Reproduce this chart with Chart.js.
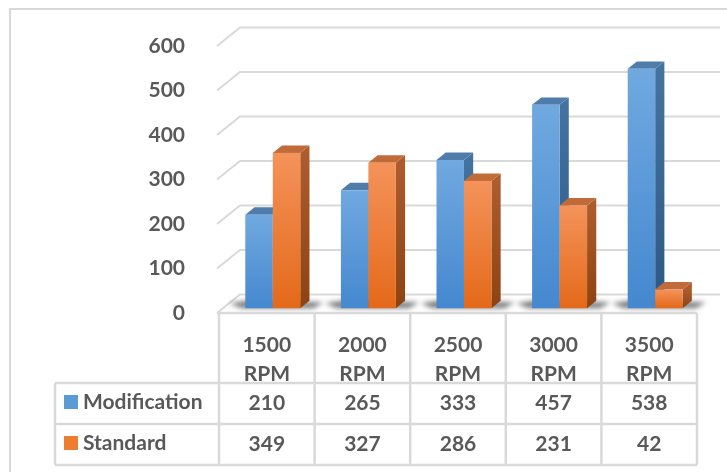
<!DOCTYPE html>
<html>
<head>
<meta charset="utf-8">
<script src="https://cdn.jsdelivr.net/npm/chart.js@4/dist/chart.umd.min.js"></script>
<style>
  html, body { margin: 0; padding: 0; background: #ffffff; }
  #wrap { position: relative; width: 727px; height: 472px; }
  canvas { display: block; }
</style>
</head>
<body>
<div id="wrap"><canvas id="chart" width="727" height="472"></canvas></div>
<script>
// Engine speed categories and the two measured series
const categories = ['1500 RPM', '2000 RPM', '2500 RPM', '3000 RPM', '3500 RPM'];
const modification = [210, 265, 333, 457, 538];
const standard = [349, 327, 286, 231, 42];
const yMin = 0;
const yMax = 600;
const yStep = 100;

const FONT = 'Lato, "Open Sans", sans-serif';
const FONT_SIZE = 21;
const TEXT = '#595959';
const LINE = '#d9d9d9';

// Depth vector of the floor / back wall (front edge -> back wall)
const DEPTH_X = 23, DEPTH_Y = -18.5;
// Bars sit a little behind the front edge and have some thickness
const BAR_OFF = 0.26, BAR_DEPTH = 0.40;

const palette = [
  { front: ['#70a9e0', '#4588cf'], side: ['#44739f', '#2d5884'], top: '#507cab', key: '#5b9bd5' },
  { front: ['#f4935a', '#e4691a'], side: ['#ad5c2d', '#8d4311'], top: '#c26b3a', key: '#ed7d31' }
];

const threeD = {
  id: 'threeD',
  beforeDatasetsDraw(chart) {
    const ctx = chart.ctx;
    const area = chart.chartArea;
    const ys = chart.scales.y;
    ctx.save();
    // back wall gridlines with their left-hand diagonal
    ctx.strokeStyle = LINE;
    ctx.lineWidth = 2;
    ys.ticks.forEach(t => {
      const yf = ys.getPixelForValue(t.value);
      ctx.beginPath();
      ctx.moveTo(area.left - 2, yf);
      ctx.lineTo(area.left - 2 + DEPTH_X, yf + DEPTH_Y);
      ctx.lineTo(area.right + DEPTH_X, yf + DEPTH_Y);
      ctx.stroke();
    });
    // soft shadows of each bar pair on the floor
    const ox = DEPTH_X * BAR_OFF, oy = DEPTH_Y * BAR_OFF;
    const bx = DEPTH_X * BAR_DEPTH, by = DEPTH_Y * BAR_DEPTH;
    const m0 = chart.getDatasetMeta(0), m1 = chart.getDatasetMeta(1);
    ctx.filter = 'blur(2.5px)';
    ctx.fillStyle = 'rgba(20,20,20,0.55)';
    m0.data.forEach((el, i) => {
      const a = el.getProps(['x', 'width', 'base'], true);
      const b = m1.data[i].getProps(['x', 'width'], true);
      const l = a.x - a.width / 2 + ox;
      const r = b.x + b.width / 2 + ox + bx;
      const yb = a.base + oy;
      ctx.beginPath();
      ctx.moveTo(l - 4, yb);
      ctx.lineTo(l - 16, yb - 5);
      ctx.lineTo(l + 4, yb - 8);
      ctx.lineTo(r + 14, yb - 6);
      ctx.lineTo(r + 4, yb);
      ctx.closePath();
      ctx.fill();
    });
    ctx.filter = 'none';
    // bars: side, top and front faces
    m0.data.forEach((_, i) => {
      [0, 1].forEach(d => {
        const el = chart.getDatasetMeta(d).data[i];
        const p = el.getProps(['x', 'y', 'base', 'width'], true);
        const c = palette[d];
        const l = p.x - p.width / 2 + ox;
        const r = p.x + p.width / 2 + ox;
        const t = p.y + oy;
        const b = p.base + oy;
        let g = ctx.createLinearGradient(0, t, 0, b);
        g.addColorStop(0, c.side[0]); g.addColorStop(1, c.side[1]);
        ctx.fillStyle = g;
        ctx.beginPath();
        ctx.moveTo(r, t); ctx.lineTo(r + bx, t + by); ctx.lineTo(r + bx, b + by); ctx.lineTo(r, b);
        ctx.closePath(); ctx.fill();
        ctx.fillStyle = c.top;
        ctx.beginPath();
        ctx.moveTo(l, t); ctx.lineTo(l + bx, t + by); ctx.lineTo(r + bx, t + by); ctx.lineTo(r, t);
        ctx.closePath(); ctx.fill();
        g = ctx.createLinearGradient(0, t, 0, b);
        g.addColorStop(0, c.front[0]); g.addColorStop(1, c.front[1]);
        ctx.fillStyle = g;
        ctx.fillRect(l, t, r - l, b - t);
      });
    });
    ctx.restore();
  },
  afterDraw(chart) {
    const ctx = chart.ctx;
    const area = chart.chartArea;
    const xs = chart.scales.x;
    const n = categories.length;
    const cw = (area.right - area.left) / n;
    const top = area.bottom;
    const rowA = top + 70, rowB = rowA + 41, rowC = rowB + 41;
    const legL = 55;
    ctx.save();
    // outer frame
    ctx.strokeStyle = LINE;
    ctx.lineWidth = 2;
    ctx.beginPath();
    ctx.moveTo(10, 472); ctx.lineTo(10, 9); ctx.lineTo(727, 9);
    ctx.stroke();
    // data table grid
    ctx.lineWidth = 2.5;
    ctx.beginPath();
    ctx.moveTo(area.left - 2, top); ctx.lineTo(area.right, top);
    [rowA, rowB, rowC].forEach(y => { ctx.moveTo(legL, y); ctx.lineTo(area.right, y); });
    ctx.moveTo(legL, rowA); ctx.lineTo(legL, rowC);
    for (let i = 0; i <= n; i++) {
      const x = area.left + i * cw;
      ctx.moveTo(x, top); ctx.lineTo(x, rowC);
    }
    ctx.stroke();
    // category headers (clipped to their cells)
    ctx.fillStyle = TEXT;
    ctx.font = 'bold ' + FONT_SIZE + 'px ' + FONT;
    ctx.textAlign = 'center';
    ctx.textBaseline = 'middle';
    categories.forEach((c, i) => {
      const cx = xs.getPixelForValue(i);
      const parts = c.split(' ');
      ctx.save();
      ctx.beginPath();
      ctx.rect(cx - cw / 2, top, cw, rowA - top - 1);
      ctx.clip();
      ctx.fillText(parts[0], cx, top + 32);
      ctx.fillText(parts[1], cx, top + 61);
      ctx.restore();
      ctx.fillText(String(modification[i]), cx, rowA + 20);
      ctx.fillText(String(standard[i]), cx, rowB + 20);
    });
    // legend keys inside the table
    const names = chart.data.datasets.map(ds => ds.label);
    ctx.textAlign = 'left';
    names.forEach((name, d) => {
      const yc = (d === 0 ? rowA : rowB) + 19;
      ctx.fillStyle = palette[d].key;
      ctx.fillRect(64, yc - 7, 14, 14);
      ctx.fillStyle = TEXT;
      ctx.fillText(name, 83, yc);
    });
    ctx.restore();
  }
};

new Chart(document.getElementById('chart'), {
  type: 'bar',
  data: {
    labels: categories,
    datasets: [
      { label: 'Modification', data: modification, backgroundColor: 'rgba(0,0,0,0)' },
      { label: 'Standard', data: standard, backgroundColor: 'rgba(0,0,0,0)' }
    ]
  },
  options: {
    responsive: false,
    animation: false,
    devicePixelRatio: 1,
    layout: { padding: { top: 46, right: 30, bottom: 159, left: 0 } },
    datasets: { bar: { categoryPercentage: 0.575, barPercentage: 1 } },
    plugins: { legend: { display: false }, tooltip: { enabled: false } },
    scales: {
      x: { display: false, offset: true },
      y: {
        min: yMin, max: yMax,
        ticks: { stepSize: yStep, padding: 26, color: TEXT, font: { family: FONT, size: FONT_SIZE, weight: 'bold' } },
        grid: { display: false },
        border: { display: false },
        afterFit(scale) { scale.width = 219; }
      }
    }
  },
  plugins: [threeD]
});
</script>
</body>
</html>
